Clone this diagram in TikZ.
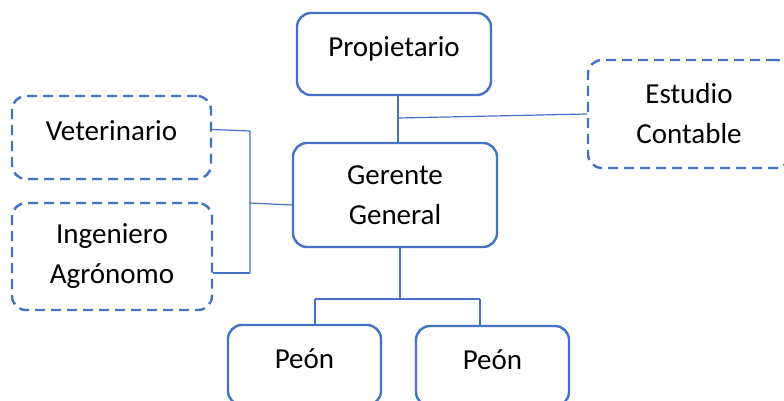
\documentclass[tikz,border=0pt]{standalone}
\usepackage{fontspec}
\setmainfont{Carlito}
\usepackage{tikz}
\usepackage{xcolor}
\definecolor{linea}{HTML}{4472C4}

\begin{document}
\begin{tikzpicture}[x=1pt,y=-1pt,
		caja/.style={draw=linea,line width=2.4pt,rounded corners=14pt,align=center,inner sep=0pt,font=\fontsize{29}{40}\selectfont},
		extra/.style={caja,dash pattern=on 10pt off 6pt},
		unalinea/.style={text height=20pt,text depth=14pt},
		rama/.style={draw=linea,line width=2.2pt},
		fina/.style={draw=linea,line width=1.2pt}]
		\useasboundingbox[fill=white] (0,0) rectangle (784,401);
		\clip (0,0) rectangle (784,401);
		\node[caja,unalinea,minimum width=194pt,minimum height=82pt] (prop) at (394,54) {Propietario};
		\node[caja,minimum width=204pt,minimum height=104pt] (ger) at (395,195) {Gerente\\General};
		\node[extra,minimum width=202pt,minimum height=108pt] (est) at (689,114) {Estudio\\Contable};
		\node[extra,unalinea,minimum width=199pt,minimum height=83pt] (vet) at (111.5,137.5) {Veterinario};
		\node[extra,minimum width=200pt,minimum height=107pt] (ing) at (112,256.5) {Ingeniero\\Agrónomo};
		\node[caja,unalinea,minimum width=153pt,minimum height=80pt] (peon1) at (304.5,365) {Peón};
		\node[caja,unalinea,minimum width=153pt,minimum height=80pt] (peon2) at (492.5,366) {Peón};
		\coordinate (a) at (398,118);
		\coordinate (b) at (250,203);
		\coordinate (c) at (400,299);
		\coordinate (d1) at (315,299);
		\coordinate (d2) at (480,299);
		\draw[rama] (a |- prop.south)--(a |- ger.north);
		\draw[fina] (a)--(est.west);
		\draw[fina] ([yshift=8pt]vet.east)--(b |- 0,131)--(b |- 0,273);
		\draw[rama] ([yshift=-16.5pt]ing.east)--(b |- 0,273);
		\draw[fina] (b)--([yshift=-10pt]ger.west);
		\draw[rama] (c |- ger.south)--(c);
		\draw[rama] (d1)--(d2);
		\draw[rama] (d1)--(d1 |- peon1.north);
		\draw[rama] (d2)--(d2 |- peon2.north);
	\end{tikzpicture}
\end{document}
